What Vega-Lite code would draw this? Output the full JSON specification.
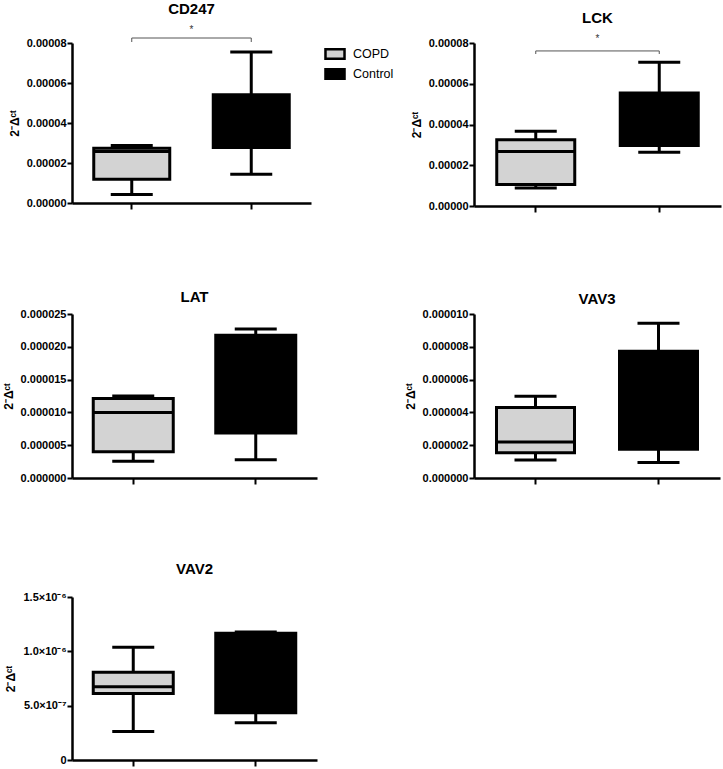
{
  "$schema": "https://vega.github.io/schema/vega-lite/v6.json",
  "padding": {"left": 2, "top": 1, "right": 2, "bottom": 2},
  "datasets": {
    "boxes": [
      {"gene": "CD247", "group": "COPD", "min": 0.0000043, "q1": 0.0000119, "median": 0.0000257, "q3": 0.0000274, "max": 0.0000287},
      {"gene": "CD247", "group": "Control", "min": 0.0000144, "q1": 0.0000277, "median": 0.00004, "q3": 0.0000541, "max": 0.0000755},
      {"gene": "LCK", "group": "COPD", "min": 0.0000088, "q1": 0.0000106, "median": 0.0000268, "q3": 0.0000325, "max": 0.0000367},
      {"gene": "LCK", "group": "Control", "min": 0.0000264, "q1": 0.0000297, "median": 0.000042, "q3": 0.0000555, "max": 0.0000705},
      {"gene": "LAT", "group": "COPD", "min": 0.00000254, "q1": 0.000004, "median": 0.00001, "q3": 0.0000121, "max": 0.0000125},
      {"gene": "LAT", "group": "Control", "min": 0.0000028, "q1": 0.00000685, "median": 0.000015, "q3": 0.00002175, "max": 0.0000227},
      {"gene": "VAV3", "group": "COPD", "min": 0.0000011, "q1": 0.00000154, "median": 0.00000219, "q3": 0.0000043, "max": 0.00000499},
      {"gene": "VAV3", "group": "Control", "min": 0.00000095, "q1": 0.00000176, "median": 0.0000045, "q3": 0.00000773, "max": 0.00000943},
      {"gene": "VAV2", "group": "COPD", "min": 2.63e-7, "q1": 6.12e-7, "median": 6.73e-7, "q3": 8.08e-7, "max": 1.038e-6},
      {"gene": "VAV2", "group": "Control", "min": 3.43e-7, "q1": 4.35e-7, "median": 8.0e-7, "q3": 1.166e-6, "max": 1.179e-6}
    ],
    "sig": [
      {"gene": "CD247", "from": "COPD", "to": "Control", "y": 0.0000825, "tip": 0.0000805, "star": 0.0000865, "label": "*"},
      {"gene": "LCK", "from": "COPD", "to": "Control", "y": 0.0000761, "tip": 0.0000746, "star": 0.0000822, "label": "*"}
    ]
  },
  "concat": [
    {
      "title": {"text": "CD247", "offset": 8},
      "width": 239, "height": 160,
      "layer": [
        {"data": {"name": "boxes"}, "transform": [{"filter": "datum.gene == 'CD247'"}],
         "mark": {"type": "rule", "strokeWidth": 3, "color": "black"},
         "encoding": {
           "x": {"field": "group", "type": "nominal", "scale": {"domain": ["COPD", "Control"], "paddingInner": 0, "paddingOuter": 0}, "axis": {"labels": false, "title": null, "tickSize": 6}},
           "y": {"field": "min", "type": "quantitative", "scale": {"domain": [0, 0.00008], "nice": false}, "axis": {"values": [0, 0.00002, 0.00004, 0.00006, 0.00008], "tickCount": 20, "format": ".5f", "title": "2⁻Δᶜᵗ", "labelOverlap": false}},
           "y2": {"field": "max"}}},
        {"data": {"name": "boxes"}, "transform": [{"filter": "datum.gene == 'CD247'"}],
         "mark": {"type": "bar", "size": 76, "stroke": "black", "strokeWidth": 3},
         "encoding": {
           "x": {"field": "group", "type": "nominal"},
           "y": {"field": "q1", "type": "quantitative"}, "y2": {"field": "q3"},
           "fill": {"field": "group", "type": "nominal", "scale": {"domain": ["COPD", "Control"], "range": ["#d3d3d3", "#000000"]},
             "legend": {"title": null, "orient": "none", "legendX": 253, "legendY": 1, "symbolType": "M-1.12,-0.56H1.12V0.56H-1.12Z", "symbolSize": 289, "symbolStrokeColor": "black", "symbolStrokeWidth": 2.5, "labelFontSize": 12.5, "labelFont": "Liberation Sans", "labelColor": "black", "labelFontWeight": "normal", "rowPadding": -2, "labelOffset": 8}}}},
        {"data": {"name": "boxes"}, "transform": [{"filter": "datum.gene == 'CD247'"}],
         "mark": {"type": "tick", "size": 76, "thickness": 3, "color": "black", "opacity": 1},
         "encoding": {"x": {"field": "group", "type": "nominal"}, "y": {"field": "median", "type": "quantitative"}}},
        {"data": {"name": "boxes"}, "transform": [{"filter": "datum.gene == 'CD247'"}],
         "mark": {"type": "tick", "size": 42, "thickness": 3, "color": "black", "opacity": 1},
         "encoding": {"x": {"field": "group", "type": "nominal"}, "y": {"field": "min", "type": "quantitative"}}},
        {"data": {"name": "boxes"}, "transform": [{"filter": "datum.gene == 'CD247'"}],
         "mark": {"type": "tick", "size": 42, "thickness": 3, "color": "black", "opacity": 1},
         "encoding": {"x": {"field": "group", "type": "nominal"}, "y": {"field": "max", "type": "quantitative"}}},
        {"data": {"name": "sig"}, "transform": [{"filter": "datum.gene == 'CD247'"}],
         "mark": {"type": "rule", "strokeWidth": 1, "color": "#555555"},
         "encoding": {"x": {"field": "from", "type": "nominal"}, "x2": {"field": "to"}, "y": {"field": "y", "type": "quantitative"}}},
        {"data": {"name": "sig"}, "transform": [{"filter": "datum.gene == 'CD247'"}],
         "mark": {"type": "rule", "strokeWidth": 1, "color": "#555555"},
         "encoding": {"x": {"field": "from", "type": "nominal"}, "y": {"field": "y", "type": "quantitative"}, "y2": {"field": "tip"}}},
        {"data": {"name": "sig"}, "transform": [{"filter": "datum.gene == 'CD247'"}],
         "mark": {"type": "rule", "strokeWidth": 1, "color": "#555555"},
         "encoding": {"x": {"field": "to", "type": "nominal"}, "y": {"field": "y", "type": "quantitative"}, "y2": {"field": "tip"}}},
        {"data": {"name": "sig"}, "transform": [{"filter": "datum.gene == 'CD247'"}],
         "mark": {"type": "text", "fontSize": 10, "color": "#333333", "baseline": "middle"},
         "encoding": {"x": {"field": "from", "type": "nominal", "bandPosition": 1}, "y": {"field": "star", "type": "quantitative"}, "text": {"field": "label"}}}
      ]
    },
    {
      "title": {"text": "LCK", "offset": 8},
      "width": 247, "height": 163,
      "layer": [
        {"data": {"name": "boxes"}, "transform": [{"filter": "datum.gene == 'LCK'"}],
         "mark": {"type": "rule", "strokeWidth": 3, "color": "black"},
         "encoding": {
           "x": {"field": "group", "type": "nominal", "scale": {"domain": ["COPD", "Control"], "paddingInner": 0, "paddingOuter": 0}, "axis": {"labels": false, "title": null, "tickSize": 6}},
           "y": {"field": "min", "type": "quantitative", "scale": {"domain": [0, 0.00008], "nice": false}, "axis": {"values": [0, 0.00002, 0.00004, 0.00006, 0.00008], "tickCount": 20, "format": ".5f", "title": "2⁻Δᶜᵗ", "labelOverlap": false}},
           "y2": {"field": "max"}}},
        {"data": {"name": "boxes"}, "transform": [{"filter": "datum.gene == 'LCK'"}],
         "mark": {"type": "bar", "size": 78, "stroke": "black", "strokeWidth": 3},
         "encoding": {"x": {"field": "group", "type": "nominal"}, "y": {"field": "q1", "type": "quantitative"}, "y2": {"field": "q3"}, "fill": {"field": "group", "type": "nominal"}}},
        {"data": {"name": "boxes"}, "transform": [{"filter": "datum.gene == 'LCK'"}],
         "mark": {"type": "tick", "size": 78, "thickness": 3, "color": "black", "opacity": 1},
         "encoding": {"x": {"field": "group", "type": "nominal"}, "y": {"field": "median", "type": "quantitative"}}},
        {"data": {"name": "boxes"}, "transform": [{"filter": "datum.gene == 'LCK'"}],
         "mark": {"type": "tick", "size": 42, "thickness": 3, "color": "black", "opacity": 1},
         "encoding": {"x": {"field": "group", "type": "nominal"}, "y": {"field": "min", "type": "quantitative"}}},
        {"data": {"name": "boxes"}, "transform": [{"filter": "datum.gene == 'LCK'"}],
         "mark": {"type": "tick", "size": 42, "thickness": 3, "color": "black", "opacity": 1},
         "encoding": {"x": {"field": "group", "type": "nominal"}, "y": {"field": "max", "type": "quantitative"}}},
        {"data": {"name": "sig"}, "transform": [{"filter": "datum.gene == 'LCK'"}],
         "mark": {"type": "rule", "strokeWidth": 1, "color": "#555555"},
         "encoding": {"x": {"field": "from", "type": "nominal"}, "x2": {"field": "to"}, "y": {"field": "y", "type": "quantitative"}}},
        {"data": {"name": "sig"}, "transform": [{"filter": "datum.gene == 'LCK'"}],
         "mark": {"type": "rule", "strokeWidth": 1, "color": "#555555"},
         "encoding": {"x": {"field": "from", "type": "nominal"}, "y": {"field": "y", "type": "quantitative"}, "y2": {"field": "tip"}}},
        {"data": {"name": "sig"}, "transform": [{"filter": "datum.gene == 'LCK'"}],
         "mark": {"type": "rule", "strokeWidth": 1, "color": "#555555"},
         "encoding": {"x": {"field": "to", "type": "nominal"}, "y": {"field": "y", "type": "quantitative"}, "y2": {"field": "tip"}}},
        {"data": {"name": "sig"}, "transform": [{"filter": "datum.gene == 'LCK'"}],
         "mark": {"type": "text", "fontSize": 10, "color": "#333333", "baseline": "middle"},
         "encoding": {"x": {"field": "from", "type": "nominal", "bandPosition": 1}, "y": {"field": "star", "type": "quantitative"}, "text": {"field": "label"}}}
      ]
    },
    {
      "title": {"text": "LAT", "offset": 3},
      "width": 245, "height": 164,
      "layer": [
        {"data": {"name": "boxes"}, "transform": [{"filter": "datum.gene == 'LAT'"}],
         "mark": {"type": "rule", "strokeWidth": 3, "color": "black"},
         "encoding": {
           "x": {"field": "group", "type": "nominal", "scale": {"domain": ["COPD", "Control"], "paddingInner": 0, "paddingOuter": 0}, "axis": {"labels": false, "title": null, "tickSize": 6}},
           "y": {"field": "min", "type": "quantitative", "scale": {"domain": [0, 0.000025], "nice": false}, "axis": {"values": [0, 0.000005, 0.00001, 0.000015, 0.00002, 0.000025], "tickCount": 20, "format": ".6f", "title": "2⁻Δᶜᵗ", "labelOverlap": false}},
           "y2": {"field": "max"}}},
        {"data": {"name": "boxes"}, "transform": [{"filter": "datum.gene == 'LAT'"}],
         "mark": {"type": "bar", "size": 80, "stroke": "black", "strokeWidth": 3},
         "encoding": {"x": {"field": "group", "type": "nominal"}, "y": {"field": "q1", "type": "quantitative"}, "y2": {"field": "q3"}, "fill": {"field": "group", "type": "nominal"}}},
        {"data": {"name": "boxes"}, "transform": [{"filter": "datum.gene == 'LAT'"}],
         "mark": {"type": "tick", "size": 80, "thickness": 3, "color": "black", "opacity": 1},
         "encoding": {"x": {"field": "group", "type": "nominal"}, "y": {"field": "median", "type": "quantitative"}}},
        {"data": {"name": "boxes"}, "transform": [{"filter": "datum.gene == 'LAT'"}],
         "mark": {"type": "tick", "size": 42, "thickness": 3, "color": "black", "opacity": 1},
         "encoding": {"x": {"field": "group", "type": "nominal"}, "y": {"field": "min", "type": "quantitative"}}},
        {"data": {"name": "boxes"}, "transform": [{"filter": "datum.gene == 'LAT'"}],
         "mark": {"type": "tick", "size": 42, "thickness": 3, "color": "black", "opacity": 1},
         "encoding": {"x": {"field": "group", "type": "nominal"}, "y": {"field": "max", "type": "quantitative"}}}
      ]
    },
    {
      "title": {"text": "VAV3", "offset": 1},
      "width": 246, "height": 164,
      "layer": [
        {"data": {"name": "boxes"}, "transform": [{"filter": "datum.gene == 'VAV3'"}],
         "mark": {"type": "rule", "strokeWidth": 3, "color": "black"},
         "encoding": {
           "x": {"field": "group", "type": "nominal", "scale": {"domain": ["COPD", "Control"], "paddingInner": 0, "paddingOuter": 0}, "axis": {"labels": false, "title": null, "tickSize": 6}},
           "y": {"field": "min", "type": "quantitative", "scale": {"domain": [0, 0.00001], "nice": false}, "axis": {"values": [0, 0.000002, 0.000004, 0.000006, 0.000008, 0.00001], "tickCount": 20, "format": ".6f", "title": "2⁻Δᶜᵗ", "labelOverlap": false}},
           "y2": {"field": "max"}}},
        {"data": {"name": "boxes"}, "transform": [{"filter": "datum.gene == 'VAV3'"}],
         "mark": {"type": "bar", "size": 78, "stroke": "black", "strokeWidth": 3},
         "encoding": {"x": {"field": "group", "type": "nominal"}, "y": {"field": "q1", "type": "quantitative"}, "y2": {"field": "q3"}, "fill": {"field": "group", "type": "nominal"}}},
        {"data": {"name": "boxes"}, "transform": [{"filter": "datum.gene == 'VAV3'"}],
         "mark": {"type": "tick", "size": 78, "thickness": 3, "color": "black", "opacity": 1},
         "encoding": {"x": {"field": "group", "type": "nominal"}, "y": {"field": "median", "type": "quantitative"}}},
        {"data": {"name": "boxes"}, "transform": [{"filter": "datum.gene == 'VAV3'"}],
         "mark": {"type": "tick", "size": 42, "thickness": 3, "color": "black", "opacity": 1},
         "encoding": {"x": {"field": "group", "type": "nominal"}, "y": {"field": "min", "type": "quantitative"}}},
        {"data": {"name": "boxes"}, "transform": [{"filter": "datum.gene == 'VAV3'"}],
         "mark": {"type": "tick", "size": 42, "thickness": 3, "color": "black", "opacity": 1},
         "encoding": {"x": {"field": "group", "type": "nominal"}, "y": {"field": "max", "type": "quantitative"}}}
      ]
    },
    {
      "title": {"text": "VAV2", "offset": 14},
      "width": 245, "height": 163,
      "layer": [
        {"data": {"name": "boxes"}, "transform": [{"filter": "datum.gene == 'VAV2'"}],
         "mark": {"type": "rule", "strokeWidth": 3, "color": "black"},
         "encoding": {
           "x": {"field": "group", "type": "nominal", "scale": {"domain": ["COPD", "Control"], "paddingInner": 0, "paddingOuter": 0}, "axis": {"labels": false, "title": null, "tickSize": 6}},
           "y": {"field": "min", "type": "quantitative", "scale": {"domain": [0, 0.0000015], "nice": false}, "axis": {"values": [0, 0.0000005, 0.000001, 0.0000015], "tickCount": 20, "labelExpr": "datum.value == 0 ? '0' : (datum.value >= 0.00000099 ? format(datum.value * 1000000, '.1f') + '×10⁻⁶' : format(datum.value * 10000000, '.1f') + '×10⁻⁷')", "title": "2⁻Δᶜᵗ", "labelOverlap": false}},
           "y2": {"field": "max"}}},
        {"data": {"name": "boxes"}, "transform": [{"filter": "datum.gene == 'VAV2'"}],
         "mark": {"type": "bar", "size": 80, "stroke": "black", "strokeWidth": 3},
         "encoding": {"x": {"field": "group", "type": "nominal"}, "y": {"field": "q1", "type": "quantitative"}, "y2": {"field": "q3"}, "fill": {"field": "group", "type": "nominal"}}},
        {"data": {"name": "boxes"}, "transform": [{"filter": "datum.gene == 'VAV2'"}],
         "mark": {"type": "tick", "size": 80, "thickness": 3, "color": "black", "opacity": 1},
         "encoding": {"x": {"field": "group", "type": "nominal"}, "y": {"field": "median", "type": "quantitative"}}},
        {"data": {"name": "boxes"}, "transform": [{"filter": "datum.gene == 'VAV2'"}],
         "mark": {"type": "tick", "size": 42, "thickness": 3, "color": "black", "opacity": 1},
         "encoding": {"x": {"field": "group", "type": "nominal"}, "y": {"field": "min", "type": "quantitative"}}},
        {"data": {"name": "boxes"}, "transform": [{"filter": "datum.gene == 'VAV2'"}],
         "mark": {"type": "tick", "size": 42, "thickness": 3, "color": "black", "opacity": 1},
         "encoding": {"x": {"field": "group", "type": "nominal"}, "y": {"field": "max", "type": "quantitative"}}}
      ]
    }
  ],
  "columns": 2,
  "align": "each",
  "spacing": {"row": 77, "column": 87},
  "config": {
    "font": "Liberation Sans",
    "view": {"stroke": null},
    "axis": {"domainColor": "black", "domainWidth": 2.5, "tickColor": "black", "tickWidth": 2, "tickSize": 5, "labelFont": "Liberation Sans", "labelFontWeight": "bold", "labelFontSize": 11, "labelColor": "black", "labelPadding": 1, "labelOverlap": false, "labelBound": false, "labelFlush": false, "grid": false, "titleFont": "Liberation Sans", "titleFontWeight": "bold", "titleFontSize": 12, "titleColor": "black", "titlePadding": 5},
    "title": {"font": "Liberation Sans", "fontSize": 15, "fontWeight": "bold", "color": "black", "anchor": "middle"}
  }
}
